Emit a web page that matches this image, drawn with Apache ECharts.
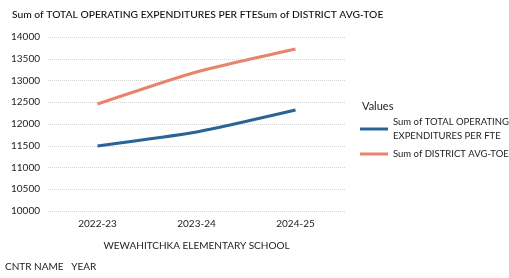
<!DOCTYPE html>
<html>
<head>
<meta charset="utf-8">
<script src="https://cdn.jsdelivr.net/npm/echarts@6/dist/echarts.min.js"></script>
<style>
  html, body { margin: 0; padding: 0; background: #fff; }
  #chart { width: 509px; height: 278px; }
</style>
</head>
<body>
<div id="chart"></div>
<script>
// data
var years = ["2022-23", "2023-24", "2024-25"];
var totalOpExpPerFte = [11495, 11815, 12320];
var districtAvgToe = [12460, 13195, 13725];
var seriesNames = ["Sum of TOTAL OPERATING EXPENDITURES PER FTE", "Sum of DISTRICT AVG-TOE"];

var font = "Lato, 'Open Sans', sans-serif";
var chart = echarts.init(document.getElementById("chart"));

var option = {
  animation: false,
  title: [
    {
      text: "Sum of TOTAL OPERATING EXPENDITURES PER FTESum of DISTRICT AVG-TOE",
      left: 7,
      top: 5,
      textStyle: { fontFamily: font, fontSize: 10.3, fontWeight: 500, color: "#111" }
    },
    {
      text: "Values",
      left: 357,
      top: 96,
      textStyle: { fontFamily: font, fontSize: 11, fontWeight: "normal", color: "#222" }
    }
  ],
  legend: {
    orient: "vertical",
    left: 355,
    top: 110,
    itemWidth: 28,
    itemHeight: 3,
    itemGap: 4,
    icon: "rect",
    data: seriesNames,
    formatter: function (name) {
      if (name == seriesNames[0]) {
        return "Sum of TOTAL OPERATING\nEXPENDITURES PER FTE";
      }
      return name;
    },
    textStyle: { fontFamily: font, fontSize: 9.5, color: "#222", lineHeight: 14 }
  },
  grid: {
    left: 48,
    right: 164,
    top: 37,
    bottom: 67
  },
  xAxis: {
    type: "category",
    data: years,
    boundaryGap: true,
    name: "WEWAHITCHKA ELEMENTARY SCHOOL",
    nameLocation: "middle",
    nameGap: 30,
    nameTextStyle: { fontFamily: font, fontSize: 10, color: "#222" },
    axisLine: { show: false },
    axisTick: { show: false },
    axisLabel: { fontFamily: font, fontSize: 10, color: "#222", margin: 8 }
  },
  yAxis: {
    type: "value",
    min: 10000,
    max: 14000,
    interval: 500,
    axisLine: { show: false },
    axisTick: { show: false },
    axisLabel: {
      fontFamily: font, fontSize: 10, color: "#222", margin: 8,
      formatter: function (v) { return String(v); }
    },
    splitLine: { lineStyle: { type: "dotted", color: "#d4d4d4" } }
  },
  graphic: [
    {
      type: "text",
      left: 5,
      top: 262,
      style: { text: "CNTR NAME   YEAR", fontFamily: font, fontSize: 10, fill: "#222" }
    }
  ],
  series: [
    {
      name: seriesNames[0],
      type: "line",
      data: totalOpExpPerFte,
      smooth: 0.2,
      showSymbol: false,
      lineStyle: { width: 3, color: "#2a6497" },
      itemStyle: { color: "#2a6497" }
    },
    {
      name: seriesNames[1],
      type: "line",
      data: districtAvgToe,
      smooth: 0.2,
      showSymbol: false,
      lineStyle: { width: 3, color: "#e8836c" },
      itemStyle: { color: "#e8836c" }
    }
  ]
};

chart.setOption(option);
</script>
</body>
</html>
